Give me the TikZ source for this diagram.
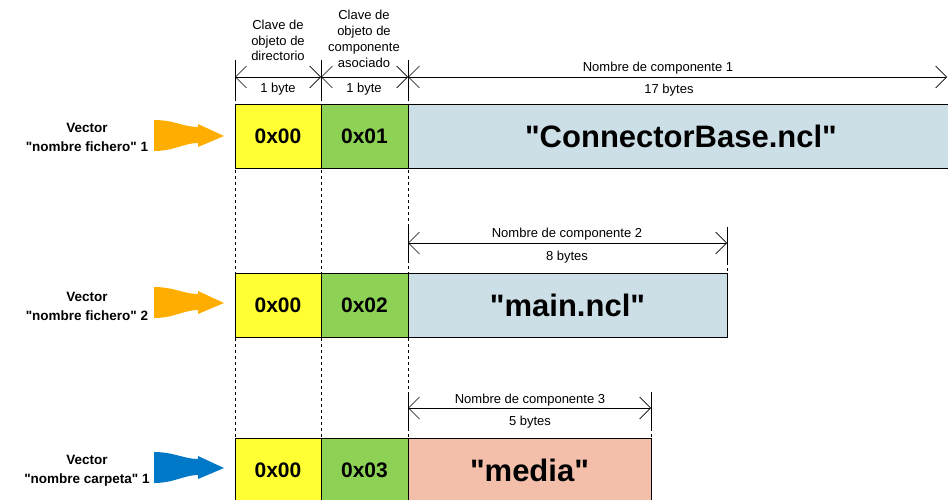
\documentclass[tikz,border=0pt]{standalone}
\usepackage{fontspec}
\setmainfont{Liberation Sans}[Ligatures=TeXOff]
\usetikzlibrary{arrows.meta}
\definecolor{keyyellow}{HTML}{FFFF33}
\definecolor{keygreen}{HTML}{8DD155}
\definecolor{nameblue}{HTML}{CDDFE6}
\definecolor{namesalmon}{HTML}{F3BFAB}
\definecolor{fileorange}{HTML}{FFAE00}
\definecolor{folderblue}{HTML}{0078C8}
\begin{document}
\begin{tikzpicture}[x=1pt,y=-1pt,
  cell/.style={draw=black, line width=0.7pt, inner sep=0pt, outer sep=0pt,
    anchor=north west, minimum height=64pt,
    font=\fontsize{21}{25}\selectfont\bfseries},
  bigname/.style={font=\fontsize{31}{36}\selectfont\bfseries, inner sep=0pt},
  small/.style={font=\fontsize{13}{15.8}\selectfont, align=center, inner sep=0pt},
  vlabel/.style={font=\fontsize{13.5}{19}\selectfont\bfseries, align=center, inner sep=0pt},
  dim/.style={line width=0.7pt,
    {Straight Barb[length=11pt,width=22pt]}-{Straight Barb[length=11pt,width=22pt]}},
  ext/.style={line width=0.7pt},
  guide/.style={line width=0.6pt, dash pattern=on 3pt off 3pt},
  fatarrow/.pic={
    \fill[pic actions] (0,-16) .. controls (20,-16) and (30,-9) .. (44,-9)
      -- (44,-12) -- (70,0) -- (44,11) -- (44,7)
      .. controls (30,7) and (20,15) .. (0,15) -- cycle;}]

\useasboundingbox (0,0) rectangle (948,500);

% dashed guides running down the field boundaries
\coordinate (g0t) at (235,98);  \coordinate (g0b) at (235,500);
\coordinate (g1t) at (321,98);  \coordinate (g1b) at (321,500);
\coordinate (g2t) at (408,98);  \coordinate (g2b) at (408,500);
\draw[guide] (g0t) -- (g0b);
\draw[guide] (g1t) -- (g1b);
\draw[guide] (g2t) -- (g2b);

% ---------- record 1 ----------
\node[cell, fill=keyyellow, minimum width=86pt] (k1) at (235,104) {0x00};
\node[cell, fill=keygreen, minimum width=87pt] (c1) at (321,104) {0x01};
\node[cell, fill=nameblue, minimum width=560pt] (n1) at (408,104) {};
\node[bigname] (t1) at (681,136) {"ConnectorBase.ncl"};

\coordinate (e0t) at (235,60); \coordinate (e0b) at (235,98);
\coordinate (e1t) at (321,60); \coordinate (e1b) at (321,98);
\coordinate (e2t) at (408,60); \coordinate (e2b) at (408,98);
\draw[ext] (e0t) -- (e0b);
\draw[ext] (e1t) -- (e1b);
\draw[ext] (e2t) -- (e2b);

\coordinate (d0) at (235,77);
\coordinate (d1) at (321,77);
\coordinate (d2) at (408,77);
\coordinate (d3) at (947,77);
\draw[dim] (d0) -- (d1);
\draw[dim] (d1) -- (d2);
\draw[dim] (d2) -- (d3);

\node[small] (h1) at (278,40.5) {Clave de\\objeto de\\directorio};
\node[small] (h2) at (364,39) {Clave de\\objeto de\\componente\\asociado};
\node[small] (b1) at (278,89) {1 byte};
\node[small] (b2) at (364,89) {1 byte};
\node[small] (l1) at (658,68) {Nombre de componente 1};
\node[small] (s1) at (669,90) {17 bytes};

\node[vlabel] (v1) at (87,137) {Vector\\"nombre fichero" 1};
\pic[fill=fileorange] (a1) at (154,136) {fatarrow};

% ---------- record 2 ----------
\node[cell, fill=keyyellow, minimum width=86pt] (k2) at (235,273) {0x00};
\node[cell, fill=keygreen, minimum width=87pt] (c2) at (321,273) {0x02};
\node[cell, fill=nameblue, minimum width=319pt, font=\fontsize{31}{36}\selectfont\bfseries] (n2) at (408,273) {"main.ncl"};

\coordinate (f0t) at (408,227); \coordinate (f0b) at (408,262);
\coordinate (f1t) at (727,227); \coordinate (f1b) at (727,262);
\coordinate (f1e) at (727,273);
\draw[ext] (f0t) -- (f0b);
\draw[ext] (f1t) -- (f1b);
\draw[guide] (f1b) -- (f1e);

\coordinate (m0) at (408,243);
\coordinate (m1) at (727,243);
\draw[dim] (m0) -- (m1);
\node[small] (l2) at (567,234) {Nombre de componente 2};
\node[small] (s2) at (567,257) {8 bytes};

\node[vlabel] (v2) at (87,306) {Vector\\"nombre fichero" 2};
\pic[fill=fileorange] (a2) at (154,303) {fatarrow};

% ---------- record 3 ----------
\node[cell, fill=keyyellow, minimum width=86pt] (k3) at (235,438) {0x00};
\node[cell, fill=keygreen, minimum width=87pt] (c3) at (321,438) {0x03};
\node[cell, fill=namesalmon, minimum width=243pt, font=\fontsize{31}{36}\selectfont\bfseries] (n3) at (408,438) {"media"};

\coordinate (p0t) at (408,392); \coordinate (p0b) at (408,428);
\coordinate (p1t) at (651,392); \coordinate (p1b) at (651,428);
\coordinate (p1e) at (651,438);
\draw[ext] (p0t) -- (p0b);
\draw[ext] (p1t) -- (p1b);
\draw[guide] (p1b) -- (p1e);

\coordinate (r0) at (408,408);
\coordinate (r1) at (651,408);
\draw[dim] (r0) -- (r1);
\node[small] (l3) at (530,400) {Nombre de componente 3};
\node[small] (s3) at (530,422) {5 bytes};

\node[vlabel] (v3) at (87,471) {Vector\\"nombre carpeta" 1};
\pic[fill=folderblue] (a3) at (154,468) {fatarrow};
\end{tikzpicture}
\end{document}
